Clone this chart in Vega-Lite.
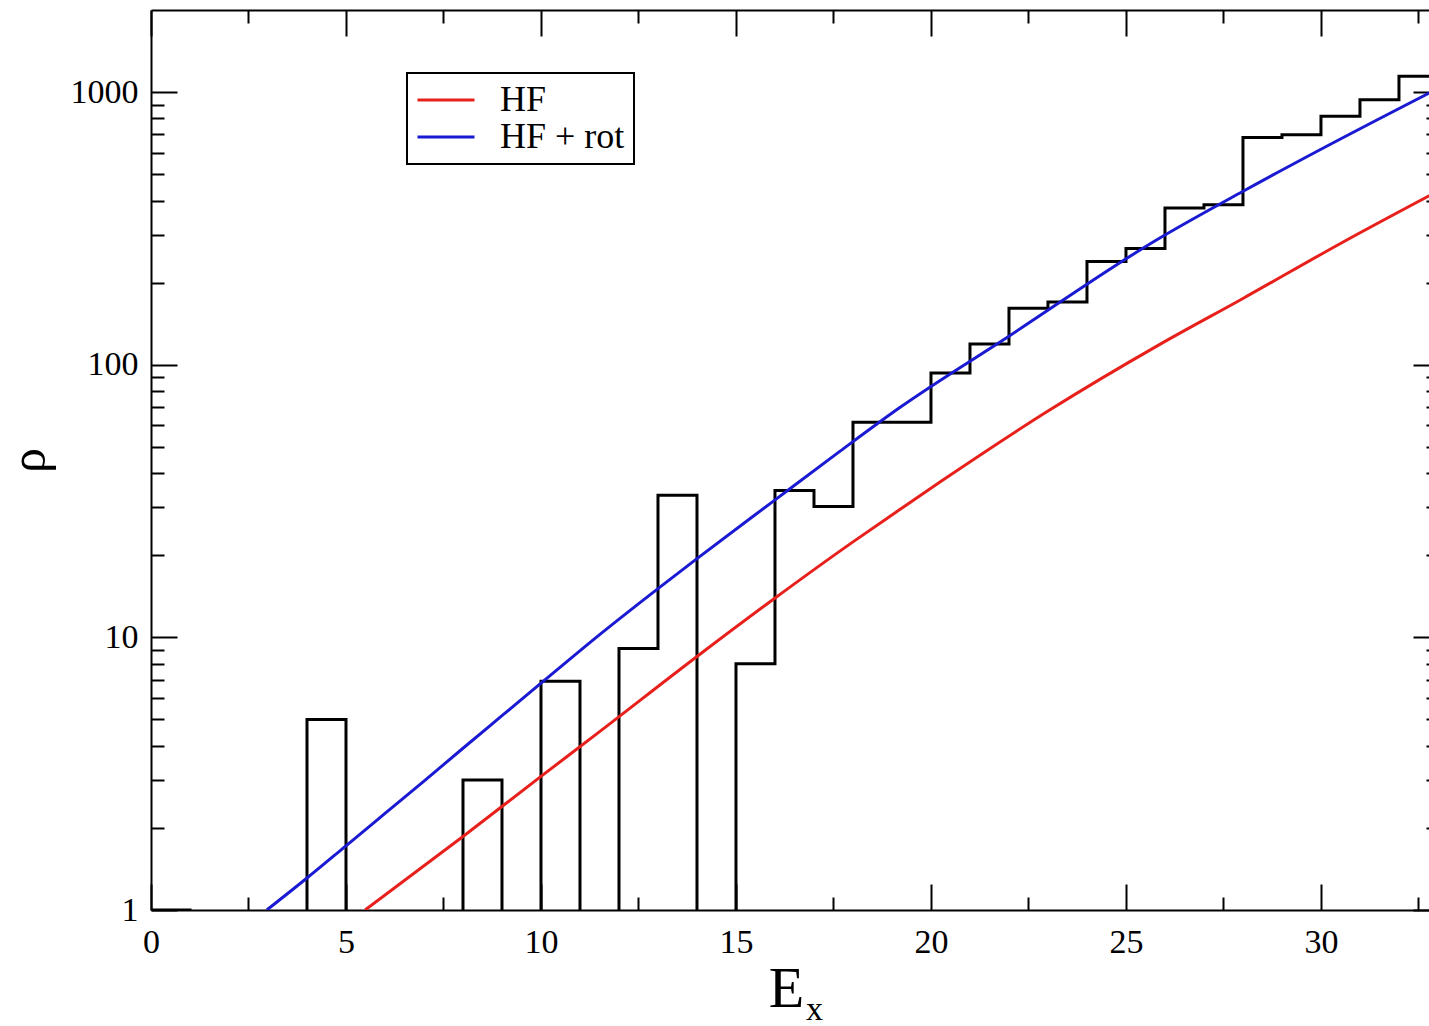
{
  "$schema": "https://vega.github.io/schema/vega-lite/v6.json",
  "autosize": {"type": "none"},
  "width": 1278,
  "height": 900,
  "padding": {"left": 151, "top": 10, "right": 0, "bottom": 116},
  "background": "white",
  "config": {
    "view": {"stroke": null},
    "font": "Liberation Serif",
    "axis": {
      "domainColor": "black", "domainWidth": 2, "tickColor": "black", "tickWidth": 2,
      "labelColor": "black", "labelFont": "Liberation Serif", "labelFontSize": 34,
      "grid": false, "titleColor": "black", "titleFont": "Liberation Serif", "titleFontWeight": "normal",
      "labelFlush": false, "labelOverlap": false
    }
  },
  "datasets": {
    "hist": [
      {"E": 0, "rho": 1}, {"E": 1, "rho": 0.01}, {"E": 2, "rho": 0.01}, {"E": 3, "rho": 0.01},
      {"E": 4, "rho": 5}, {"E": 5, "rho": 0.01}, {"E": 6, "rho": 0.01}, {"E": 7, "rho": 0.01},
      {"E": 8, "rho": 3}, {"E": 9, "rho": 0.01}, {"E": 10, "rho": 6.9}, {"E": 11, "rho": 0.01},
      {"E": 12, "rho": 9.1}, {"E": 13, "rho": 33.2}, {"E": 14, "rho": 0.01}, {"E": 15, "rho": 8},
      {"E": 16, "rho": 34.6}, {"E": 17, "rho": 30.2}, {"E": 18, "rho": 61.5}, {"E": 19, "rho": 61.5},
      {"E": 20, "rho": 93.3}, {"E": 21, "rho": 119}, {"E": 22, "rho": 161}, {"E": 23, "rho": 170},
      {"E": 24, "rho": 239}, {"E": 25, "rho": 267}, {"E": 26, "rho": 376}, {"E": 27, "rho": 386},
      {"E": 28, "rho": 682}, {"E": 29, "rho": 698}, {"E": 30, "rho": 815}, {"E": 31, "rho": 938},
      {"E": 32, "rho": 1142}, {"E": 33, "rho": 1142}
    ],
    "curves": [
      {"series": "HF", "E": 5.49, "rho": 1.0},
      {"series": "HF", "E": 8, "rho": 1.86},
      {"series": "HF", "E": 10, "rho": 3.09},
      {"series": "HF", "E": 11.52, "rho": 4.53},
      {"series": "HF", "E": 14, "rho": 8.51},
      {"series": "HF", "E": 15.96, "rho": 13.8},
      {"series": "HF", "E": 18, "rho": 22.4},
      {"series": "HF", "E": 19.21, "rho": 29.5},
      {"series": "HF", "E": 20.24, "rho": 37.2},
      {"series": "HF", "E": 23, "rho": 67.6},
      {"series": "HF", "E": 25.88, "rho": 119},
      {"series": "HF", "E": 28, "rho": 175},
      {"series": "HF", "E": 30.57, "rho": 282},
      {"series": "HF", "E": 32.78, "rho": 417},
      {"series": "HF + rot", "E": 2.97, "rho": 1.0},
      {"series": "HF + rot", "E": 4, "rho": 1.31},
      {"series": "HF + rot", "E": 5, "rho": 1.72},
      {"series": "HF + rot", "E": 6, "rho": 2.26},
      {"series": "HF + rot", "E": 7, "rho": 2.97},
      {"series": "HF + rot", "E": 8, "rho": 3.92},
      {"series": "HF + rot", "E": 9, "rho": 5.16},
      {"series": "HF + rot", "E": 10, "rho": 6.79},
      {"series": "HF + rot", "E": 11.52, "rho": 10.28},
      {"series": "HF + rot", "E": 13, "rho": 15.1},
      {"series": "HF + rot", "E": 14, "rho": 19.45},
      {"series": "HF + rot", "E": 15.96, "rho": 31.6},
      {"series": "HF + rot", "E": 17.67, "rho": 48.2},
      {"series": "HF + rot", "E": 19.21, "rho": 69.8},
      {"series": "HF + rot", "E": 21.95, "rho": 125.9},
      {"series": "HF + rot", "E": 25.75, "rho": 285},
      {"series": "HF + rot", "E": 27.98, "rho": 431},
      {"series": "HF + rot", "E": 30, "rho": 617},
      {"series": "HF + rot", "E": 32.78, "rho": 993}
    ]
  },
  "layer": [
    {
      "data": {"name": "hist"},
      "mark": {"type": "line", "interpolate": "step-after", "color": "black", "strokeWidth": 3, "clip": true},
      "encoding": {
        "x": {"field": "E", "type": "quantitative",
          "scale": {"domain": [0, 32.77], "nice": false, "zero": false},
          "axis": {"orient": "bottom", "values": [0, 5, 10, 15, 20, 25, 30], "ticks": false, "domain": true,
            "labelPadding": 15, "title": "E", "titleFontSize": 58, "titleX": 635, "titleY": 96,
            "titleBaseline": "alphabetic", "titleAlign": "center"}},
        "y": {"field": "rho", "type": "quantitative",
          "scale": {"type": "log", "domain": [1, 2000], "nice": false},
          "axis": {"orient": "left", "values": [1, 10, 100, 1000], "format": "d", "ticks": false, "domain": true,
            "labelPadding": 13, "title": "ρ", "titleFontSize": 50, "titleX": -122, "titleY": 450,
            "titleAngle": 270, "titleAlign": "center", "titleBaseline": "middle"}}
      }
    },
    {
      "data": {"name": "curves"},
      "mark": {"type": "line", "strokeWidth": 3, "clip": true, "interpolate": "monotone"},
      "encoding": {
        "x": {"field": "E", "type": "quantitative",
          "scale": {"domain": [0, 32.77], "nice": false, "zero": false},
          "axis": {"orient": "bottom", "values": [0, 5, 10, 15, 20, 25, 30], "tickSize": -26, "labels": false, "domain": false,
            "title": "x", "titleFontSize": 34, "titleX": 663, "titleY": 109, "titleBaseline": "alphabetic", "titleAlign": "center"}},
        "y": {"field": "rho", "type": "quantitative",
          "scale": {"type": "log", "domain": [1, 2000], "nice": false},
          "axis": {"orient": "left", "values": [1, 10, 100, 1000], "tickSize": -26, "labels": false, "domain": false, "title": null}},
        "color": {"field": "series", "type": "nominal",
          "scale": {"domain": ["HF", "HF + rot"], "range": ["#e8201c", "#1a1ad2"]},
          "legend": {"orient": "none", "legendX": 256, "legendY": 63, "title": null,
            "strokeColor": "black", "fillColor": "white", "padding": 9, "cornerRadius": 0,
            "symbolType": "M-3,0H3", "symbolSize": 361, "symbolStrokeWidth": 3, "symbolOffset": 12,
            "labelFont": "Liberation Serif", "labelFontSize": 36, "labelColor": "black", "labelOffset": 36,
            "rowPadding": 1, "labelLimit": 400,
            "encode": {"legend": {"update": {"strokeWidth": {"value": 2}}}}}}
      }
    },
    {
      "data": {"name": "hist"},
      "mark": {"type": "line", "opacity": 0},
      "encoding": {
        "x": {"field": "E", "type": "quantitative",
          "scale": {"domain": [0, 32.77], "nice": false, "zero": false},
          "axis": {"orient": "bottom", "values": [2.5, 7.5, 12.5, 17.5, 22.5, 27.5, 32.5], "tickSize": -13, "labels": false, "domain": false, "title": null}},
        "y": {"field": "rho", "type": "quantitative",
          "scale": {"type": "log", "domain": [1, 2000], "nice": false},
          "axis": {"orient": "left", "values": [2, 3, 4, 5, 6, 7, 8, 9, 20, 30, 40, 50, 60, 70, 80, 90, 200, 300, 400, 500, 600, 700, 800, 900], "tickSize": -13, "labels": false, "domain": false, "title": null}}
      }
    },
    {
      "data": {"name": "hist"},
      "mark": {"type": "line", "opacity": 0},
      "encoding": {
        "x": {"field": "E", "type": "quantitative",
          "scale": {"domain": [0, 32.77], "nice": false, "zero": false},
          "axis": {"orient": "top", "values": [0, 5, 10, 15, 20, 25, 30], "tickSize": -26, "labels": false, "domain": true, "title": null}},
        "y": {"field": "rho", "type": "quantitative",
          "scale": {"type": "log", "domain": [1, 2000], "nice": false},
          "axis": {"orient": "right", "offset": 10, "values": [1, 10, 100, 1000], "tickSize": -26, "labels": false, "domain": false, "title": null}}
      }
    },
    {
      "data": {"name": "hist"},
      "mark": {"type": "line", "opacity": 0},
      "encoding": {
        "x": {"field": "E", "type": "quantitative",
          "scale": {"domain": [0, 32.77], "nice": false, "zero": false},
          "axis": {"orient": "top", "values": [2.5, 7.5, 12.5, 17.5, 22.5, 27.5, 32.5], "tickSize": -13, "labels": false, "domain": false, "title": null}},
        "y": {"field": "rho", "type": "quantitative",
          "scale": {"type": "log", "domain": [1, 2000], "nice": false},
          "axis": {"orient": "right", "offset": 10, "values": [2, 3, 4, 5, 6, 7, 8, 9, 20, 30, 40, 50, 60, 70, 80, 90, 200, 300, 400, 500, 600, 700, 800, 900], "tickSize": -13, "labels": false, "domain": false, "title": null}}
      }
    }
  ],
  "resolve": {"axis": {"x": "independent", "y": "independent"}}
}
